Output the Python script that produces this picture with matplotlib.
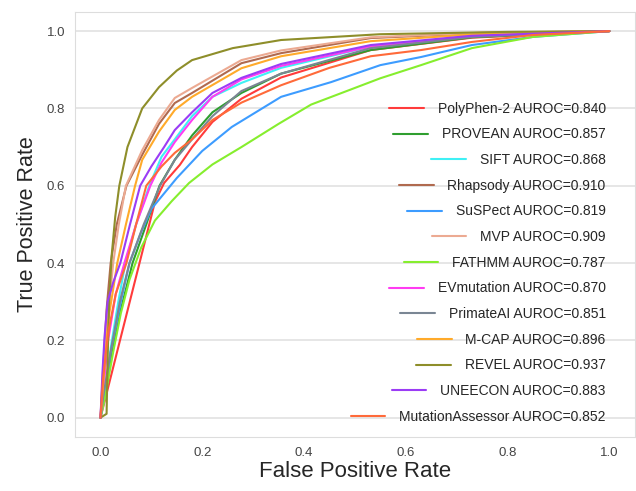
import numpy as np
import matplotlib
matplotlib.use('Agg')
import matplotlib.pyplot as plt
import seaborn as sns

# ROC curves (fpr, tpr) per predictor
names = ['PolyPhen-2', 'PROVEAN', 'SIFT', 'Rhapsody', 'SuSPect', 'MVP', 'FATHMM',
         'EVmutation', 'PrimateAI', 'M-CAP', 'REVEL', 'UNEECON', 'MutationAssessor']
aurocs = [0.840, 0.857, 0.868, 0.910, 0.819, 0.909, 0.787,
          0.870, 0.851, 0.896, 0.937, 0.883, 0.852]

polyphen_fpr = [0, 0.107, 0.125, 0.156, 0.18, 0.22, 0.277, 0.355, 0.531, 0.73, 1]
polyphen_tpr = [0, 0.558, 0.607, 0.654, 0.70, 0.765, 0.825, 0.88, 0.951, 0.983, 1]

provean_fpr = [0, 0.006, 0.02, 0.04, 0.063, 0.09, 0.116, 0.146, 0.18, 0.22, 0.277, 0.355, 0.531, 0.73, 1]
provean_tpr = [0, 0.05, 0.15, 0.28, 0.4, 0.5, 0.6, 0.667, 0.73, 0.79, 0.84, 0.89, 0.951, 0.984, 1]

sift_fpr = [0, 0.008, 0.02, 0.035, 0.049, 0.07, 0.096, 0.12, 0.146, 0.18, 0.22, 0.277, 0.355, 0.531, 0.73, 1]
sift_tpr = [0, 0.05, 0.18, 0.3, 0.4, 0.5, 0.6, 0.675, 0.72, 0.78, 0.83, 0.866, 0.905, 0.96, 0.987, 1]

rhapsody_fpr = [0, 0.005, 0.012, 0.02, 0.032, 0.051, 0.082, 0.115, 0.146, 0.18, 0.277, 0.355, 0.531, 0.75, 1]
rhapsody_tpr = [0, 0.12, 0.28, 0.4, 0.5, 0.6, 0.68, 0.76, 0.814, 0.84, 0.917, 0.943, 0.982, 0.995, 1]

suspect_fpr = [0, 0.006, 0.02, 0.04, 0.057, 0.08, 0.1, 0.15, 0.2, 0.258, 0.355, 0.453, 0.55, 0.63, 0.73, 0.85, 1]
suspect_tpr = [0, 0.05, 0.17, 0.3, 0.4, 0.48, 0.54, 0.62, 0.69, 0.752, 0.83, 0.868, 0.912, 0.933, 0.964, 0.985, 1]

mvp_fpr = [0, 0.006, 0.014, 0.025, 0.036, 0.05, 0.082, 0.115, 0.146, 0.18, 0.277, 0.355, 0.531, 0.75, 1]
mvp_tpr = [0, 0.08, 0.25, 0.4, 0.5, 0.6, 0.692, 0.77, 0.827, 0.853, 0.925, 0.95, 0.984, 0.996, 1]

fathmm_fpr = [0, 0.01, 0.025, 0.04, 0.057, 0.08, 0.107, 0.14, 0.174, 0.22, 0.277, 0.35, 0.414, 0.55, 0.63, 0.73, 0.85, 1]
fathmm_tpr = [0, 0.06, 0.17, 0.27, 0.357, 0.44, 0.51, 0.56, 0.607, 0.655, 0.70, 0.76, 0.81, 0.878, 0.912, 0.956, 0.985, 1]

evmut_fpr = [0, 0.006, 0.015, 0.03, 0.047, 0.07, 0.098, 0.12, 0.146, 0.18, 0.22, 0.277, 0.355, 0.531, 0.73, 1]
evmut_tpr = [0, 0.08, 0.2, 0.32, 0.4, 0.5, 0.6, 0.66, 0.713, 0.77, 0.83, 0.875, 0.91, 0.96, 0.987, 1]

primate_fpr = [0, 0.006, 0.02, 0.038, 0.057, 0.085, 0.117, 0.146, 0.18, 0.22, 0.277, 0.355, 0.531, 0.73, 1]
primate_tpr = [0, 0.06, 0.17, 0.3, 0.4, 0.5, 0.6, 0.667, 0.72, 0.78, 0.845, 0.89, 0.956, 0.985, 1]

mcap_fpr = [0, 0.006, 0.015, 0.033, 0.05, 0.068, 0.082, 0.115, 0.146, 0.18, 0.277, 0.355, 0.531, 0.75, 1]
mcap_tpr = [0, 0.1, 0.25, 0.4, 0.5, 0.6, 0.667, 0.74, 0.796, 0.83, 0.904, 0.935, 0.974, 0.993, 1]

revel_fpr = [0, 0.012, 0.014, 0.017, 0.022, 0.029, 0.037, 0.053, 0.082, 0.115, 0.15, 0.18, 0.26, 0.355, 0.55, 0.8, 1]
revel_tpr = [0, 0.01, 0.15, 0.3, 0.42, 0.52, 0.6, 0.7, 0.8, 0.855, 0.898, 0.925, 0.956, 0.977, 0.992, 0.998, 1]

uneecon_fpr = [0, 0.004, 0.008, 0.014, 0.025, 0.039, 0.058, 0.078, 0.1, 0.125, 0.146, 0.18, 0.22, 0.277, 0.355, 0.531, 0.73, 1]
uneecon_tpr = [0, 0.12, 0.21, 0.3, 0.35, 0.4, 0.5, 0.6, 0.65, 0.7, 0.744, 0.79, 0.84, 0.879, 0.915, 0.964, 0.988, 1]

ma_fpr = [0, 0.005, 0.015, 0.03, 0.051, 0.07, 0.09, 0.12, 0.146, 0.18, 0.22, 0.277, 0.355, 0.45, 0.531, 0.63, 0.73, 0.85, 1]
ma_tpr = [0, 0.1, 0.22, 0.32, 0.4, 0.5, 0.6, 0.65, 0.685, 0.72, 0.77, 0.815, 0.86, 0.905, 0.935, 0.951, 0.972, 0.99, 1]

fprs = [polyphen_fpr, provean_fpr, sift_fpr, rhapsody_fpr, suspect_fpr, mvp_fpr, fathmm_fpr,
        evmut_fpr, primate_fpr, mcap_fpr, revel_fpr, uneecon_fpr, ma_fpr]
tprs = [polyphen_tpr, provean_tpr, sift_tpr, rhapsody_tpr, suspect_tpr, mvp_tpr, fathmm_tpr,
        evmut_tpr, primate_tpr, mcap_tpr, revel_tpr, uneecon_tpr, ma_tpr]

colors = ['#ff3b3b', '#2f9e2f', '#3ff0f5', '#b06a4f', '#3d9cff', '#ecaa92', '#86ee2e',
          '#ff3cf2', '#7a8694', '#ffaa2a', '#8e8e2a', '#9b3cf5', '#ff6a3a']

sns.set_style('whitegrid')
plt.rcParams['font.family'] = ['Liberation Sans', 'DejaVu Sans']

fig, ax = plt.subplots(figsize=(6.36, 4.91), dpi=100)
fig.subplots_adjust(left=0.118, right=0.998, bottom=0.11, top=0.976)

for f, t, c, n, a in zip(fprs, tprs, colors, names, aurocs):
    ax.plot(f, t, color=c, lw=1.5, label='%s AUROC=%.3f' % (n, a))

ax.grid(axis='x', visible=False)
ax.grid(axis='y', color='#e2e2e2', lw=1.2)
for s in ax.spines.values():
    s.set_color('#dddddd')
ax.set_xticks([0, 0.2, 0.4, 0.6, 0.8, 1.0])
ax.set_yticks([0, 0.2, 0.4, 0.6, 0.8, 1.0])
ax.tick_params(labelsize=9.5, colors='#444444')
ax.set_xlabel('False Positive Rate', fontsize=16, color='#262626', labelpad=2)
ax.set_ylabel('True Positive Rate', fontsize=15.5, color='#262626', labelpad=6)

leg = ax.legend(loc='lower right', bbox_to_anchor=(0.958, 0.018), borderaxespad=0,
                frameon=False, fontsize=10, labelspacing=0.84,
                handlelength=2.5, handletextpad=1.0)
# right-align every legend row (handle + text) like the reference
leg._legend_handle_box.get_children()[0].align = 'right'
for t in leg.get_texts():
    t.set_color('#262626')

fig.savefig('out.png', dpi=100)
